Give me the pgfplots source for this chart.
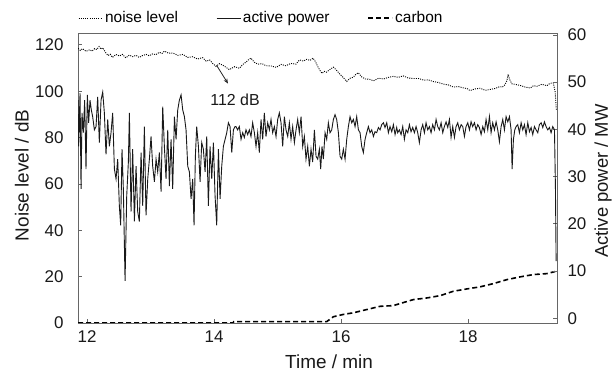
\documentclass[border=0pt]{standalone}
\usepackage{fontspec}
\setmainfont{Liberation Sans}
\usepackage{pgfplots}
\pgfplotsset{compat=1.18}
\usepackage{pgfplotstable}
\usetikzlibrary{arrows.meta}

\pgfplotstableread{
t p
11.860 46.2
11.869 36.4
11.890 47.7
11.906 27.4
11.921 43.5
11.942 39.3
11.963 46.2
11.984 31.6
12.005 47.3
12.026 41.4
12.047 46.2
12.068 44.1
12.089 42.7
12.116 39.9
12.142 40.6
12.168 46.9
12.194 37.2
12.221 46.2
12.247 47.9
12.273 43.5
12.299 34.7
12.326 42.1
12.352 36.4
12.378 39.3
12.404 43.5
12.431 31.6
12.457 29.5
12.483 33.7
12.509 23.8
12.530 19.7
12.551 35.8
12.572 27.4
12.599 7.9
12.625 25.9
12.651 33.1
12.667 43.5
12.693 22.6
12.719 35.8
12.746 20.5
12.772 32.2
12.798 22.6
12.824 20.5
12.851 35.1
12.877 23.8
12.903 40.6
12.929 21.8
12.956 29.5
12.982 33.7
13.008 38.5
13.034 32.2
13.061 28.9
13.087 33.7
13.113 31.0
13.139 35.1
13.166 26.8
13.192 44.8
13.218 36.4
13.244 29.5
13.271 39.9
13.297 28.0
13.323 37.9
13.349 27.4
13.376 42.7
13.402 37.9
13.428 44.1
13.454 46.2
13.481 47.3
13.507 44.1
13.533 42.7
13.559 39.9
13.586 32.2
13.612 31.0
13.638 25.3
13.664 29.5
13.685 19.7
13.706 34.3
13.727 40.6
13.754 36.4
13.780 28.9
13.806 37.2
13.832 35.8
13.859 31.0
13.885 38.5
13.911 23.8
13.937 36.4
13.964 29.5
13.990 37.2
14.016 25.9
14.042 19.7
14.069 35.8
14.095 25.3
14.121 32.2
14.147 36.4
14.174 37.9
14.200 39.3
14.226 41.4
14.252 40.6
14.279 35.1
14.305 39.9
14.331 40.6
14.346 40.6
14.372 39.9
14.398 40.6
14.425 37.9
14.451 39.3
14.477 38.3
14.503 39.9
14.530 38.9
14.556 39.9
14.582 38.5
14.608 41.4
14.635 39.3
14.661 36.4
14.687 39.3
14.713 35.1
14.740 42.1
14.766 37.9
14.792 43.5
14.818 38.5
14.845 41.4
14.871 39.9
14.897 42.1
14.923 39.3
14.950 40.6
14.976 38.5
15.002 42.1
15.028 43.5
15.055 41.4
15.081 36.4
15.107 42.7
15.133 39.9
15.160 38.5
15.186 41.4
15.212 37.9
15.238 40.6
15.265 37.2
15.291 39.9
15.317 42.1
15.343 39.3
15.370 42.7
15.396 36.4
15.422 38.5
15.448 33.7
15.475 36.4
15.501 32.2
15.527 35.8
15.553 33.1
15.580 39.9
15.606 34.3
15.632 33.7
15.658 35.8
15.679 31.6
15.700 36.4
15.721 33.7
15.748 39.3
15.774 37.9
15.800 41.4
15.826 39.3
15.853 39.9
15.879 42.1
15.905 43.1
15.931 42.1
15.958 39.3
15.984 34.3
16.010 33.7
16.036 35.8
16.063 33.7
16.089 37.9
16.115 40.6
16.141 42.7
16.168 41.4
16.194 42.1
16.220 40.6
16.246 42.7
16.273 39.9
16.299 39.3
16.325 36.4
16.351 35.1
16.378 37.9
16.404 39.3
16.430 40.6
16.456 39.3
16.483 39.9
16.509 38.5
16.535 39.5
16.561 39.3
16.588 40.4
16.614 39.9
16.640 41.0
16.666 41.4
16.692 40.4
16.719 41.4
16.745 39.3
16.771 40.6
16.798 39.5
16.824 41.0
16.850 38.9
16.876 40.4
16.892 39.3
16.918 39.9
16.945 38.9
16.971 40.6
16.997 37.9
17.023 39.9
17.050 39.3
17.076 41.0
17.102 39.5
17.128 40.4
17.155 39.3
17.181 40.6
17.207 39.3
17.233 37.2
17.260 39.9
17.286 41.0
17.312 39.3
17.338 41.4
17.365 39.9
17.391 40.6
17.417 39.3
17.443 41.0
17.470 39.9
17.496 42.1
17.522 40.6
17.548 39.9
17.575 41.4
17.601 39.3
17.627 40.6
17.653 41.6
17.680 40.4
17.706 42.1
17.732 38.3
17.758 40.6
17.785 38.3
17.811 40.6
17.837 41.4
17.863 39.9
17.890 41.0
17.916 40.6
17.942 38.5
17.968 40.6
17.995 41.4
18.021 39.9
18.047 41.6
18.073 40.6
18.100 41.4
18.126 39.9
18.152 41.0
18.178 40.4
18.205 38.9
18.231 40.6
18.257 39.5
18.283 42.1
18.310 39.9
18.336 42.7
18.362 39.3
18.388 41.4
18.415 39.9
18.441 41.6
18.467 39.9
18.493 37.4
18.520 40.6
18.546 42.1
18.572 39.9
18.598 42.7
18.625 41.6
18.651 42.7
18.677 39.9
18.693 31.6
18.714 37.9
18.735 39.9
18.756 40.6
18.782 41.0
18.808 39.3
18.835 41.4
18.861 39.9
18.887 41.0
18.913 38.9
18.940 41.4
18.966 39.5
18.992 40.4
19.018 38.9
19.045 40.6
19.071 39.9
19.097 39.3
19.123 41.0
19.150 41.4
19.176 40.4
19.202 41.6
19.228 40.6
19.255 39.9
19.281 40.4
19.307 39.3
19.333 40.6
19.360 39.9
19.375 28.0
19.386 12.1
}\powerdata

\pgfplotstableread{
t n
11.860 118.5
11.895 117.6
11.930 118.4
11.985 117.2
12.040 117.9
12.080 117.3
12.120 118.4
12.155 118.0
12.190 119.3
12.220 118.2
12.250 118.7
12.290 116.8
12.330 115.4
12.365 116.0
12.400 114.6
12.455 115.9
12.510 115.2
12.560 115.9
12.610 114.4
12.665 115.6
12.720 114.9
12.770 115.5
12.820 114.6
12.875 115.4
12.930 115.9
12.980 115.3
13.030 116.1
13.085 115.8
13.140 116.8
13.180 116.3
13.220 117.3
13.285 116.4
13.350 116.5
13.430 115.5
13.510 115.9
13.585 114.6
13.660 114.9
13.740 113.9
13.820 114.5
13.875 113.0
13.930 113.5
13.980 112.0
14.030 110.7
14.085 111.9
14.140 111.2
14.190 110.3
14.240 109.3
14.320 110.6
14.400 109.9
14.450 111.5
14.500 112.5
14.540 113.5
14.580 114.3
14.635 112.5
14.690 111.7
14.755 111.9
14.820 111.0
14.900 110.9
14.980 110.3
15.055 111.6
15.130 111.0
15.210 112.0
15.290 111.7
15.320 112.8
15.350 113.5
15.405 113.0
15.460 113.8
15.510 113.3
15.560 114.3
15.600 112.6
15.640 110.3
15.670 108.9
15.700 107.7
15.735 108.6
15.770 108.2
15.825 109.4
15.880 110.4
15.930 109.0
15.980 107.4
16.035 105.9
16.090 104.2
16.140 105.6
16.190 106.0
16.230 107.2
16.270 108.0
16.325 106.2
16.380 105.3
16.445 105.2
16.510 104.5
16.590 105.6
16.670 105.3
16.745 106.0
16.820 106.4
16.900 106.0
16.980 106.6
17.060 105.7
17.140 105.5
17.220 105.5
17.300 104.8
17.375 104.9
17.450 104.2
17.530 103.8
17.610 103.1
17.690 102.7
17.770 101.8
17.850 102.0
17.930 101.4
17.980 101.2
18.030 100.3
18.110 101.0
18.190 101.3
18.270 100.4
18.350 100.8
18.425 101.2
18.500 102.0
18.540 101.8
18.580 102.8
18.610 104.5
18.630 107.3
18.655 105.0
18.690 103.2
18.755 102.9
18.820 102.5
18.900 101.8
18.980 101.4
19.030 102.4
19.080 102.1
19.160 103.0
19.240 102.4
19.290 103.4
19.340 103.6
19.370 100.0
19.390 91.8
}\noisedata

\pgfplotstableread{
t c
11.860 0
14.300 0
14.310 0.6
15.774 0.6
15.879 2.7
16.036 3.7
16.194 4.4
16.404 5.8
16.614 7.2
16.824 7.5
16.929 8.4
17.139 10.1
17.349 10.8
17.559 11.8
17.769 13.7
17.979 14.7
18.189 15.6
18.399 17.0
18.609 18.7
18.819 19.9
19.029 20.9
19.238 21.3
19.370 22.2
}\carbondata

\pgfplotsset{
  common/.style={
    at={(78bp,50bp)}, anchor=south west,
    scale only axis, width=479bp, height=289bp,
    xmin=11.858, xmax=19.40,
    tick align=inside, major tick length=4bp,
    axis line style={black!60, line width=1bp},
    every tick/.style={black!60, line width=0.8bp},
    tick label style={font=\fontsize{17}{20}\selectfont, text=black!90},
    /pgf/number format/assume math mode=true,
  }
}

\begin{document}
\begin{tikzpicture}[x=1bp,y=1bp]
\begin{axis}[common,
  ymin=0, ymax=124.7,
  xtick={12,14,16,18}, ytick={0,20,...,120},
  ytick pos=left, xtick pos=bottom,
  yticklabel style={xshift=-11bp},
  xticklabel style={yshift=-4bp},
  xlabel={Time / min}, ylabel={Noise level / dB},
  every axis x label/.style={at={(axis description cs:0.524,-0.159)}, anchor=base,
    font=\fontsize{19}{22}\selectfont, text=black!90},
  every axis y label/.style={at={(axis description cs:-0.117,0.511)}, anchor=center, rotate=90,
    font=\fontsize{19}{22}\selectfont, text=black!90},
]
\addplot[black, line width=0.9bp, dash pattern=on 1bp off 1.2bp] table[x=t,y=n] {\noisedata};
\addplot[black, line width=1.6bp, dash pattern=on 5bp off 3bp] table[x=t,y=c] {\carbondata};
\draw[black!85, line width=0.8bp, -{Stealth[length=5bp,width=4bp]}] (axis cs:14.04,111.2) -- (axis cs:14.22,103.3);
\node[font=\fontsize{16}{19}\selectfont, text=black!90] at (axis cs:14.33,96.1) {112 dB};
\end{axis}
\begin{axis}[common,
  ymin=-1, ymax=60.2,
  axis x line=none, axis y line*=right,
  ytick={0,10,...,60},
  yticklabel style={xshift=7bp},
  ylabel={Active power / MW},
  every axis y label/.style={at={(axis description cs:1.096,0.491)}, anchor=center, rotate=90,
    font=\fontsize{18.5}{21}\selectfont, text=black!90, inner sep=1bp},
  legend columns=3,
  legend style={draw=none, fill=none, at={(axis description cs:0,1.055)}, anchor=west,
    font=\fontsize{15.5}{18}\selectfont, inner sep=0pt,
    /tikz/every even column/.append style={column sep=36bp}},
  legend image code/.code={\draw[#1] (0bp,0bp) -- (24bp,0bp);},
]
\addlegendimage{black, line width=0.9bp, dash pattern=on 1bp off 1.2bp}
\addlegendentry{noise level}
\addplot[black!90, line width=0.9bp] table[x=t,y=p] {\powerdata};
\addlegendentry{active power}
\addlegendimage{black, line width=1.6bp, dash pattern=on 5bp off 3bp}
\addlegendentry{carbon}
\end{axis}
\pgfresetboundingbox
\path[use as bounding box] (0,0) rectangle (614bp,373bp);
\end{tikzpicture}
\end{document}
